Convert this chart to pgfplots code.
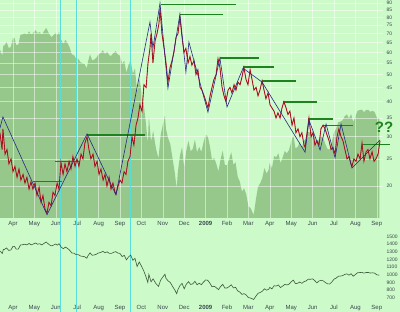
\documentclass[border=0pt]{standalone}
\usepackage{pgfplots}
\pgfplotsset{compat=1.18}
\usepackage{pgfplotstable}
\usepackage{fontspec}
\setmainfont{Liberation Sans}
\definecolor{bg}{RGB}{204,250,200}
\definecolor{areag}{RGB}{150,200,140}
\definecolor{resg}{RGB}{30,130,30}
\definecolor{zig}{RGB}{40,40,130}
\definecolor{cy}{RGB}{90,220,215}
\definecolor{candle}{RGB}{225,30,50}
\definecolor{lbl}{RGB}{60,70,80}
\definecolor{spline}{RGB}{60,90,60}

\pgfplotstableread{
m v
2.39 31
2.49 27
2.53 32
2.63 26
2.72 27
2.81 24
2.91 25
3.00 22.5
3.09 23.5
3.19 21.5
3.28 23
3.37 21
3.47 22
3.56 20.5
3.65 21.5
3.75 19.5
3.84 20.7
3.93 19.5
4.03 20.5
4.12 18.5
4.22 19.8
4.31 17.5
4.40 18.5
4.50 16.5
4.59 16
4.68 17.5
4.78 17
4.87 19
4.96 18.5
5.06 20.5
5.15 19.5
5.24 24.3
5.34 22
5.43 24
5.52 22.5
5.62 24.5
5.71 23
5.80 25.5
5.90 23.5
5.99 25
6.08 23.5
6.18 26
6.27 25
6.36 28.5
6.46 30
6.55 27
6.64 25
6.74 26
6.83 23.5
6.93 24.5
7.02 22
7.11 23
7.21 21
7.30 22
7.39 20
7.49 21.5
7.58 19.5
7.67 20.5
7.77 19
7.81 18.7
7.91 20
8.00 21
8.09 20.5
8.19 22.5
8.28 22
8.37 24.5
8.47 25.5
8.56 30
8.65 28
8.75 33
8.84 35
8.93 39
9.03 37
9.12 46
9.22 45
9.31 55
9.40 62
9.45 70
9.54 55
9.64 66
9.73 70
9.82 76
9.87 86
9.96 70
10.06 62
10.15 55
10.24 47
10.34 53
10.43 56
10.52 60
10.62 68
10.71 70
10.80 80
10.90 68
10.99 60
11.08 62
11.18 55
11.27 58
11.36 54
11.46 56
11.55 50
11.64 52
11.74 45
11.83 44
11.93 42
12.02 40
12.11 38
12.21 42
12.30 45
12.39 48
12.49 50
12.58 57
12.67 53
12.77 45
12.86 42
12.95 40
13.05 44
13.14 45
13.23 43
13.33 46
13.42 44
13.51 47
13.61 46
13.70 49
13.79 53
13.89 48
13.98 46
14.08 52
14.17 48
14.26 44
14.36 45
14.45 42
14.54 44
14.64 47.5
14.73 44
14.82 41
14.92 43
15.01 39
15.10 38
15.20 37
15.29 35
15.38 36.5
15.48 35
15.57 38
15.66 40
15.76 38
15.85 36
15.94 37
16.04 33
16.13 35
16.22 31
16.32 32
16.41 30
16.50 31
16.60 28
16.65 27.5
16.74 31
16.83 35
16.93 30
17.02 31
17.11 28
17.21 29
17.30 28
17.39 32
17.49 33
17.58 32
17.67 30.5
17.77 29
17.86 27
17.95 27.5
18.05 26
18.14 30
18.23 32
18.33 30
18.42 29
18.51 27
18.61 25
18.70 25.5
18.79 24
18.84 23.5
18.93 25
19.03 24.5
19.12 26
19.22 25
19.31 28.5
19.40 24.5
19.50 26.5
19.59 27
19.68 25
19.78 26.5
19.87 24.5
19.96 25
20.06 26
20.15 29
}\vix

\pgfplotstableread{
m sp
2.39 1308
2.45 1293
2.50 1276
2.55 1330
2.60 1329
2.70 1349
2.80 1316
2.90 1322
3.00 1370
3.07 1370
3.15 1333
3.25 1334
3.35 1388
3.45 1390
3.55 1397
3.65 1388
3.75 1407
3.85 1389
3.95 1400
4.05 1413
4.15 1397
4.25 1403
4.35 1388
4.45 1408
4.55 1426
4.60 1413
4.70 1390
4.80 1375
4.90 1386
5.00 1400
5.07 1385
5.15 1404
5.25 1360
5.35 1339
5.45 1360
5.55 1342
5.65 1318
5.75 1283
5.85 1280
5.95 1261
6.05 1262
6.15 1244
6.25 1239
6.35 1234
6.45 1214
6.50 1245
6.60 1284
6.70 1253
6.80 1257
6.90 1267
7.00 1284
7.10 1289
7.20 1305
7.30 1285
7.40 1298
7.50 1278
7.60 1277
7.70 1292
7.80 1300
7.90 1282
8.00 1277
8.10 1236
8.20 1252
8.30 1193
8.40 1232
8.50 1255
8.60 1188
8.70 1213
8.80 1106
8.90 1166
9.00 1114
9.10 1056
9.20 985
9.30 899
9.35 1003
9.45 907
9.55 946
9.65 896
9.70 876
9.80 848
9.90 930
10.00 969
10.10 1006
10.15 952
10.25 919
10.35 898
10.45 850
10.55 806
10.65 752
10.70 800
10.80 857
10.90 887
11.00 816
11.10 876
11.20 909
11.30 873
11.40 880
11.50 914
11.60 869
11.70 888
11.80 870
11.90 903
12.00 931
12.10 927
12.20 890
12.30 842
12.40 850
12.50 830
12.60 805
12.70 845
12.80 874
12.90 826
13.00 826
13.10 845
13.20 869
13.30 827
13.40 835
13.50 789
13.60 773
13.70 743
13.80 753
13.90 735
14.00 701
14.10 696
14.20 683
14.25 677
14.35 720
14.45 757
14.55 768
14.65 784
14.75 816
14.85 798
14.95 811
15.00 834
15.10 815
15.20 856
15.30 852
15.40 866
15.50 832
15.60 851
15.70 873
15.80 866
15.90 877
16.00 907
16.10 929
16.20 883
16.30 888
16.40 904
16.50 887
16.60 910
16.70 919
16.80 942
16.90 940
17.00 946
17.10 923
17.20 893
17.30 918
17.40 927
17.50 919
17.60 897
17.70 880
17.80 879
17.90 905
18.00 941
18.10 955
18.20 979
18.30 982
18.40 987
18.50 1003
18.60 1011
18.70 994
18.80 1012
18.90 980
19.00 1002
19.10 1025
19.20 1028
19.30 1030
19.40 1020
19.50 1028
19.60 1029
19.70 1021
19.80 1025
19.90 1020
20.00 998
20.12 994
}\spx

\pgfplotsset{
  panel/.style={
    scale only axis, width=383pt,
    xmin=2.3925, xmax=20.29,
    axis line style={draw=none},
    major tick length=0pt,
    tick style={draw=none},
    xtick={3,4,5,6,7,8,9,10,11,12,13,14,15,16,17,18,19,20},
    xticklabels={Apr,May,Jun,Jul,Aug,Sep,Oct,Nov,Dec,\textbf{2009},Feb,Mar,Apr,May,Jun,Jul,Aug,Sep},
    xticklabel style={font=\fontsize{6}{7}\selectfont, text=lbl},
    yticklabel style={font=\fontsize{5}{6}\selectfont, text=lbl},
    yticklabel pos=right,
    /pgf/number format/assume math mode=true,
    clip=false,
  }
}

\begin{document}
\begin{tikzpicture}
\fill[bg] (0pt,0pt) rectangle (400pt,312pt);
\useasboundingbox (0pt,0pt) rectangle (400pt,312pt);

% S&P 500 as shaded background area (log scale)
\begin{axis}[at={(0pt,312pt)}, anchor=north west, scale only axis,
  width=383pt, height=218pt, xmin=2.3925, xmax=20.29,
  ymode=log, ymin=669, ymax=1594, hide axis]
\addplot[fill=areag, draw=none] table[x=m,y=sp]{\spx} \closedcycle;
\end{axis}

% Top panel: VIX
\begin{axis}[panel, at={(0pt,312pt)}, anchor=north west, height=218pt,
  ymode=log, ymin=15.38, ymax=92.3,
  ytick={20,25,30,35,40,45,50,55,60,65,70,75,80,85,90},
  yticklabels={20,25,30,35,40,45,50,55,60,65,70,75,80,85,90},
  grid=major, major grid style={white, opacity=0.5, line width=0.5pt}]
\addplot[cy, line width=1pt] coordinates {(5.21,15.38) (5.21,92.3)};
\addplot[cy, line width=1pt] coordinates {(5.98,15.38) (5.98,92.3)};
\addplot[cy, line width=1pt] coordinates {(8.50,15.38) (8.50,92.3)};
% resistance lines
\addplot[resg, line width=1.2pt] coordinates {(9.92,88.9) (13.42,88.9)};
\addplot[resg, line width=1.2pt] coordinates {(10.80,81.9) (12.81,81.9)};
\addplot[resg, line width=1.2pt] coordinates {(12.67,57.3) (14.50,57.3)};
\addplot[resg, line width=1.2pt] coordinates {(13.75,53.2) (15.20,53.2)};
\addplot[resg, line width=1.2pt] coordinates {(14.64,47.4) (16.22,47.4)};
\addplot[resg, line width=1.2pt] coordinates {(15.62,39.9) (17.21,39.9)};
\addplot[resg, line width=1.2pt] coordinates {(16.79,34.7) (17.95,34.7)};
\addplot[resg, line width=1.2pt] coordinates {(17.49,33.0) (18.89,33.0)};
\addplot[resg, line width=1.2pt] coordinates {(19.31,28.2) (20.62,28.2)};
\addplot[resg, line width=1.2pt] coordinates {(3.93,20.7) (5.29,20.7)};
\addplot[resg, line width=1.2pt] coordinates {(4.96,24.4) (6.13,24.4)};
\addplot[resg, line width=1.2pt] coordinates {(6.46,30.4) (9.17,30.4)};
% VIX price
\addplot[candle, line width=0.9pt] table[x=m,y=v]{\vix};
\addplot[black, line width=0.35pt, opacity=0.5] table[x=m,y=v]{\vix};
% zigzag
\addplot[zig, line width=0.6pt] coordinates {
(2.39,32.2) (2.53,35.3) (4.59,15.8) (6.46,30.7) (7.81,18.6) (9.40,77.0)
(9.54,62.2) (9.87,90.0) (10.24,44.7) (10.80,82.2) (11.08,51.0) (11.22,65.3)
(12.11,36.7) (12.67,57.3) (13.00,38.3) (13.75,52.7) (14.64,47.0) (16.65,26.4)
(16.83,34.4) (17.35,26.9) (17.63,33.3) (18.05,25.2) (18.33,33.3) (18.84,23.2)
(20.15,29.2)};
\node[text=resg, font=\fontsize{15}{15}\selectfont\bfseries] at (axis cs:20.34,32.5) {??};
\end{axis}

% Lower panel: S&P 500
\begin{axis}[panel, at={(0pt,94pt)}, anchor=north west, height=84pt,
  ymin=644, ymax=1739,
  ytick={700,800,900,1000,1100,1200,1300,1400,1500},
  yticklabels={700,800,900,1000,1100,1200,1300,1400,1500}]
\addplot[cy, line width=1pt] coordinates {(5.21,520) (5.21,1739)};
\addplot[cy, line width=1pt] coordinates {(5.98,520) (5.98,1739)};
\addplot[cy, line width=1pt] coordinates {(8.50,520) (8.50,1739)};
\addplot[spline, line width=0.6pt] table[x=m,y=sp]{\spx};
\end{axis}
\end{tikzpicture}
\end{document}
